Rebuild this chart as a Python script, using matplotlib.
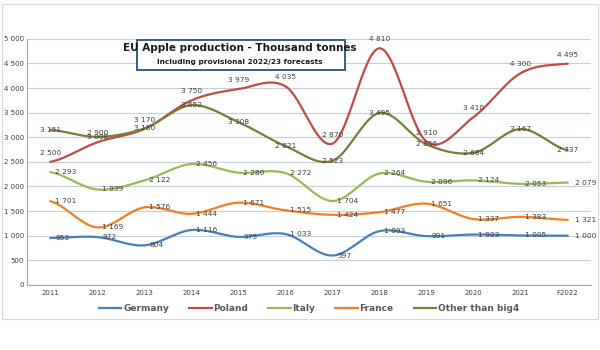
import matplotlib.pyplot as plt
import numpy as np
from matplotlib.patches import Rectangle

years = ['2011', '2012', '2013', '2014', '2015', '2016', '2017', '2018',
         '2019', '2020', '2021', 'F2022']
germany = [953, 972, 804, 1116, 975, 1033, 597, 1093, 991, 1023, 1005, 1000]
poland = [2500, 2900, 3170, 3750, 3979, 4035, 2870, 4810, 2910, 3410, 4300, 4495]
italy = [2293, 1939, 2122, 2456, 2280, 2272, 1704, 2264, 2096, 2124, 2053, 2079]
france = [1701, 1169, 1576, 1444, 1671, 1515, 1424, 1477, 1651, 1337, 1383, 1321]
other = [3151, 3008, 3180, 3652, 3308, 2821, 2523, 3495, 2856, 2684, 3167, 2737]

series = [
    ('Germany', germany, '#4a7ebb'),
    ('Poland', poland, '#be4b48'),
    ('Italy', italy, '#98b954'),
    ('France', france, '#f07f21'),
    ('Other than big4', other, '#7f7a3a'),
]


def smooth(xs, ys, n=20):
    """Catmull-Rom style curve through the points, like Excel's smoothed line."""
    xs = np.asarray(xs, float)
    ys = np.asarray(ys, float)
    px = np.concatenate([[2 * xs[0] - xs[1]], xs, [2 * xs[-1] - xs[-2]]])
    py = np.concatenate([[ys[0]], ys, [ys[-1]]])
    outx, outy = [], []
    t = np.linspace(0, 1, n)
    for i in range(1, len(px) - 2):
        for p, out in ((px, outx), (py, outy)):
            p0, p1, p2, p3 = p[i - 1], p[i], p[i + 1], p[i + 2]
            out.extend(0.5 * ((2 * p1) + (-p0 + p2) * t
                              + (2 * p0 - 5 * p1 + 4 * p2 - p3) * t ** 2
                              + (-p0 + 3 * p1 - 3 * p2 + p3) * t ** 3))
    return outx, outy


def fmt(v):
    return f'{v:,}'.replace(',', ' ')


fig = plt.figure(figsize=(6, 3.5), dpi=100)
fig.patches.append(Rectangle((0.003, 0.09), 0.993, 0.9, transform=fig.transFigure,
                             fill=False, edgecolor='#d9d9d9', lw=0.8))
ax = fig.add_axes([0.045, 0.186, 0.94, 0.703])

x = np.arange(len(years))
for name, vals, col in series:
    sx, sy = smooth(x, vals)
    ax.plot(sx, sy, color=col, lw=1.6, label=name)

lab_kw = dict(fontsize=5.3, color='#404040')
for i, v in enumerate(poland):
    ax.text(i, v + 120, fmt(v), ha='center', va='bottom', **lab_kw)
for i, v in enumerate(other):
    ax.text(i, v, fmt(v), ha='center', va='center', **lab_kw)
for vals in (germany, italy, france):
    for i, v in enumerate(vals):
        if i == len(vals) - 1:
            ax.text(i + 0.15, v, fmt(v), ha='left', va='center', **lab_kw)
        else:
            ax.text(i + 0.1, v, fmt(v), ha='left', va='center', **lab_kw)

ax.set_xlim(-0.5, len(years) - 0.5)
ax.set_ylim(0, 5000)
ax.set_yticks(np.arange(0, 5001, 500))
ax.set_yticklabels([fmt(v) for v in range(0, 5001, 500)])
ax.set_xticks(x)
ax.set_xticklabels(years)
ax.tick_params(labelsize=5, labelcolor='#404040', length=0)
ax.tick_params(axis='y', pad=2)
ax.tick_params(axis='x', pad=4)
ax.grid(axis='y', color='#c6cfe0', lw=0.8)
ax.set_axisbelow(True)
for s in ('top', 'right'):
    ax.spines[s].set_visible(False)
for s in ('left', 'bottom'):
    ax.spines[s].set_color('#a6a6a6')

ax.legend(loc='upper center', bbox_to_anchor=(0.5, -0.045), ncol=5, frameon=False,
          prop=dict(size=6.5, weight='bold'), labelcolor='#595959',
          handlelength=2.5, handletextpad=0.2, columnspacing=2.2)

fig.patches.append(Rectangle((0.228, 0.80), 0.347, 0.085, transform=fig.transFigure,
                             facecolor='white', edgecolor='#385d8a', lw=1.4, zorder=5))
fig.text(0.40, 0.862, 'EU Apple production - Thousand tonnes', ha='center', va='center',
         fontsize=7.5, weight='bold', color='#1a1a1a', zorder=6)
fig.add_artist(plt.Line2D([0.248, 0.553], [0.843, 0.843], color='#1a1a1a', lw=0.8))
fig.text(0.40, 0.823, 'Including provisional 2022/23 forecasts', ha='center', va='center',
         fontsize=5.3, weight='bold', color='#1a1a1a', zorder=6)

fig.savefig('out.png', dpi=100)
